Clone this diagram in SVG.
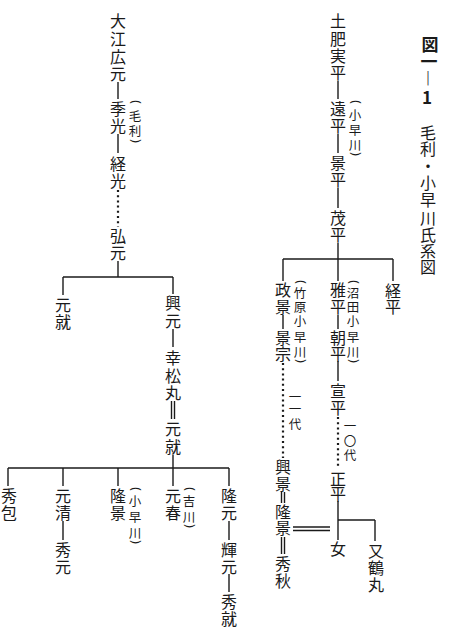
<svg xmlns="http://www.w3.org/2000/svg" width="451" height="640" viewBox="0 0 451 640">
<style>
text{font-family:"Noto Sans CJK JP","Noto Sans CJK SC",sans-serif;fill:#1a1a1a;text-anchor:middle;dominant-baseline:central}
.n{font-size:16px}
.s{font-size:12.5px}
.p{font-size:13px;font-family:"DejaVu Sans",sans-serif}
.t{font-size:17px;font-weight:700}
.c line{stroke:#1a1a1a;stroke-width:1.4;fill:none}
.c .d{stroke-width:2.2;stroke-dasharray:2 3.2}
</style>
<rect width="451" height="640" fill="#fff"/>
<g class="c" id="connectors">
<line x1="118" y1="82" x2="118" y2="99"/>
<line x1="118" y1="134" x2="118" y2="153"/>
<line class="d" x1="118" y1="190" x2="118" y2="227"/>
<line x1="118" y1="261" x2="118" y2="277"/>
<line x1="63" y1="277" x2="173" y2="277"/>
<line x1="63" y1="277" x2="63" y2="295"/>
<line x1="173" y1="277" x2="173" y2="294"/>
<line x1="173" y1="329" x2="173" y2="347"/>
<line x1="171.5" y1="401" x2="171.5" y2="419"/>
<line x1="174.5" y1="401" x2="174.5" y2="419"/>
<line x1="173" y1="455" x2="173" y2="486"/>
<line x1="8" y1="468" x2="229" y2="468"/>
<line x1="8" y1="468" x2="8" y2="486"/>
<line x1="63" y1="468" x2="63" y2="486"/>
<line x1="118" y1="468" x2="118" y2="486"/>
<line x1="229" y1="468" x2="229" y2="486"/>
<line x1="63" y1="521" x2="63" y2="540"/>
<line x1="229" y1="521" x2="229" y2="540"/>
<line x1="229" y1="574" x2="229" y2="592"/>
<line x1="338" y1="81" x2="338" y2="99"/>
<line x1="338" y1="134" x2="338" y2="153"/>
<line x1="338" y1="188" x2="338" y2="208"/>
<line x1="338" y1="243" x2="338" y2="281"/>
<line x1="283" y1="259" x2="393" y2="259"/>
<line x1="283" y1="259" x2="283" y2="281"/>
<line x1="393" y1="259" x2="393" y2="281"/>
<line x1="283" y1="315" x2="283" y2="329"/>
<line class="d" x1="283" y1="363" x2="283" y2="458"/>
<line x1="281.5" y1="492" x2="281.5" y2="503"/>
<line x1="284.5" y1="492" x2="284.5" y2="503"/>
<line x1="281.5" y1="537" x2="281.5" y2="554"/>
<line x1="284.5" y1="537" x2="284.5" y2="554"/>
<line x1="338" y1="315" x2="338" y2="329"/>
<line x1="338" y1="361" x2="338" y2="381"/>
<line class="d" x1="338" y1="417" x2="338" y2="468"/>
<line x1="338" y1="501" x2="338" y2="540"/>
<line x1="338" y1="520" x2="375" y2="520"/>
<line x1="375" y1="520" x2="375" y2="541"/>
<line x1="293" y1="527" x2="330" y2="527"/>
<line x1="293" y1="530.5" x2="330" y2="530.5"/>
</g>
<g id="title">
<text class="t"><tspan x="430" y="43">図</tspan><tspan x="429" y="60">一</tspan><tspan x="428" y="77">︱</tspan><tspan x="427" y="96">1</tspan></text>
<text class="n"><tspan x="428" y="132">毛</tspan><tspan x="428" y="148">利</tspan><tspan x="428" y="165">・</tspan><tspan x="428" y="182">小</tspan><tspan x="428" y="199">早</tspan><tspan x="428" y="217">川</tspan><tspan x="428" y="234">氏</tspan><tspan x="428" y="250">系</tspan><tspan x="428" y="266">図</tspan></text>
</g>
<g id="oe-hiromoto"><text class="n"><tspan x="118" y="20">大</tspan><tspan x="118" y="38">江</tspan><tspan x="118" y="56">広</tspan><tspan x="118" y="73">元</tspan></text></g>
<g id="suemitsu"><text class="n"><tspan x="118" y="108">季</tspan><tspan x="118" y="125">光</tspan></text>
<text class="p" transform="translate(135 102) rotate(90)">(</text>
<text class="s"><tspan x="135" y="115">毛</tspan><tspan x="135" y="130">利</tspan></text>
<text class="p" transform="translate(135 141) rotate(90)">)</text></g>
<g id="tsunemitsu"><text class="n"><tspan x="118" y="163">経</tspan><tspan x="118" y="180">光</tspan></text></g>
<g id="hiromoto"><text class="n"><tspan x="118" y="235">弘</tspan><tspan x="118" y="252">元</tspan></text></g>
<g id="motonari-a"><text class="n"><tspan x="63" y="304">元</tspan><tspan x="63" y="321">就</tspan></text></g>
<g id="okimoto"><text class="n"><tspan x="173" y="302">興</tspan><tspan x="173" y="320">元</tspan></text></g>
<g id="kosho-maru"><text class="n"><tspan x="173" y="357">幸</tspan><tspan x="173" y="375">松</tspan><tspan x="173" y="392">丸</tspan></text></g>
<g id="motonari"><text class="n"><tspan x="173" y="428">元</tspan><tspan x="173" y="446">就</tspan></text></g>
<g id="hidekane"><text class="n"><tspan x="9" y="495">秀</tspan><tspan x="9" y="512">包</tspan></text></g>
<g id="motokiyo"><text class="n"><tspan x="63" y="495">元</tspan><tspan x="63" y="512">清</tspan></text></g>
<g id="hidemoto"><text class="n"><tspan x="63" y="549">秀</tspan><tspan x="63" y="566">元</tspan></text></g>
<g id="takakage-a"><text class="n"><tspan x="118" y="495">隆</tspan><tspan x="118" y="512">景</tspan></text>
<text class="p" transform="translate(135 489) rotate(90)">(</text>
<text class="s"><tspan x="135" y="500">小</tspan><tspan x="135" y="516">早</tspan><tspan x="135" y="532">川</tspan></text>
<text class="p" transform="translate(135 542) rotate(90)">)</text></g>
<g id="motoharu"><text class="n"><tspan x="173" y="495">元</tspan><tspan x="173" y="512">春</tspan></text>
<text class="p" transform="translate(189 489) rotate(90)">(</text>
<text class="s"><tspan x="189" y="500">吉</tspan><tspan x="189" y="516">川</tspan></text>
<text class="p" transform="translate(189 526) rotate(90)">)</text></g>
<g id="takamoto"><text class="n"><tspan x="229" y="495">隆</tspan><tspan x="229" y="512">元</tspan></text></g>
<g id="terumoto"><text class="n"><tspan x="229" y="549">輝</tspan><tspan x="229" y="566">元</tspan></text></g>
<g id="hidenari"><text class="n"><tspan x="229" y="601">秀</tspan><tspan x="229" y="618">就</tspan></text></g>
<g id="doi-sanehira"><text class="n"><tspan x="338" y="20">土</tspan><tspan x="338" y="38">肥</tspan><tspan x="338" y="55">実</tspan><tspan x="338" y="72">平</tspan></text></g>
<g id="tohira"><text class="n"><tspan x="338" y="108">遠</tspan><tspan x="338" y="125">平</tspan></text>
<text class="p" transform="translate(355 102) rotate(90)">(</text>
<text class="s"><tspan x="355" y="114">小</tspan><tspan x="355" y="129">早</tspan><tspan x="355" y="144">川</tspan></text>
<text class="p" transform="translate(355 154) rotate(90)">)</text></g>
<g id="kagehira"><text class="n"><tspan x="338" y="162">景</tspan><tspan x="338" y="179">平</tspan></text></g>
<g id="shigehira"><text class="n"><tspan x="338" y="217">茂</tspan><tspan x="338" y="234">平</tspan></text></g>
<g id="masakage"><text class="n"><tspan x="283" y="289">政</tspan><tspan x="283" y="306">景</tspan></text>
<text class="p" transform="translate(300 282) rotate(90)">(</text>
<text class="s"><tspan x="300" y="292">竹</tspan><tspan x="300" y="306">原</tspan><tspan x="300" y="320">小</tspan><tspan x="300" y="336">早</tspan><tspan x="300" y="351">川</tspan></text>
<text class="p" transform="translate(300 361) rotate(90)">)</text></g>
<g id="kagemune"><text class="n"><tspan x="283" y="337">景</tspan><tspan x="283" y="353">宗</tspan></text></g>
<g id="gen11"><text class="s"><tspan x="295" y="396">一</tspan><tspan x="295" y="408">一</tspan><tspan x="295" y="423">代</tspan></text></g>
<g id="okikage"><text class="n"><tspan x="283" y="466">興</tspan><tspan x="283" y="483">景</tspan></text></g>
<g id="takakage"><text class="n"><tspan x="283" y="511">隆</tspan><tspan x="283" y="527">景</tspan></text></g>
<g id="hideaki"><text class="n"><tspan x="283" y="563">秀</tspan><tspan x="283" y="580">秋</tspan></text></g>
<g id="masahira"><text class="n"><tspan x="338" y="289">雅</tspan><tspan x="338" y="306">平</tspan></text>
<text class="p" transform="translate(353 282) rotate(90)">(</text>
<text class="s"><tspan x="353" y="292">沼</tspan><tspan x="353" y="306">田</tspan><tspan x="353" y="320">小</tspan><tspan x="353" y="336">早</tspan><tspan x="353" y="351">川</tspan></text>
<text class="p" transform="translate(353 361) rotate(90)">)</text></g>
<g id="tomohira"><text class="n"><tspan x="338" y="337">朝</tspan><tspan x="338" y="353">平</tspan></text></g>
<g id="nobuhira"><text class="n"><tspan x="338" y="390">宣</tspan><tspan x="338" y="407">平</tspan></text></g>
<g id="gen10"><text class="s"><tspan x="350" y="425">一</tspan><tspan x="350" y="440">〇</tspan><tspan x="350" y="454">代</tspan></text></g>
<g id="masahira2"><text class="n"><tspan x="338" y="478">正</tspan><tspan x="338" y="493">平</tspan></text></g>
<g id="daughter"><text class="n"><tspan x="338" y="548">女</tspan></text></g>
<g id="matatsurumaru"><text class="n"><tspan x="376" y="550">又</tspan><tspan x="376" y="567">鶴</tspan><tspan x="376" y="584">丸</tspan></text></g>
<g id="tsunehira"><text class="n"><tspan x="393" y="290">経</tspan><tspan x="393" y="306">平</tspan></text></g>
</svg>
